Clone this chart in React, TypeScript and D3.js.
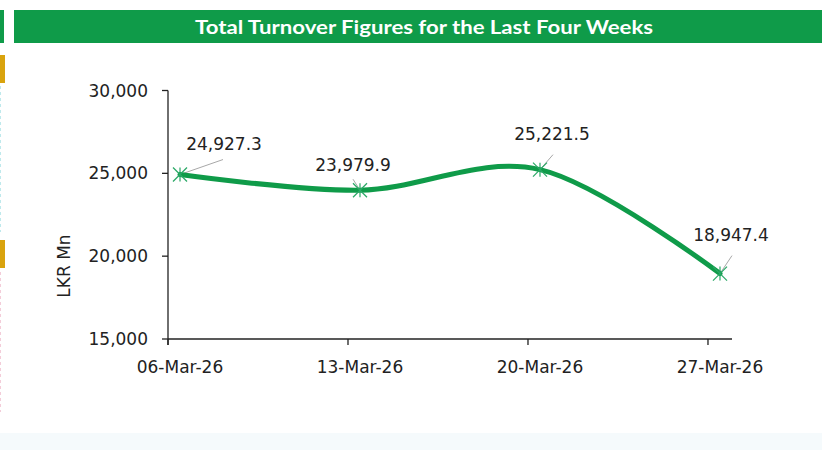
import React from "react";
import * as d3 from "d3";

const dates = ["06-Mar-26", "13-Mar-26", "20-Mar-26", "27-Mar-26"];
const dayOffsets = [0, 7, 14, 21];
const turnover = [24927.3, 23979.9, 25221.5, 18947.4];
const labelText = ["24,927.3", "23,979.9", "25,221.5", "18,947.4"];
const yTicks = [15000, 20000, 25000, 30000];
const title = "Total Turnover Figures for the Last Four Weeks";
const yTitle = "LKR Mn";

// label offsets (dx, dy in px) relative to each point
const labelOffsets: [number, number][] = [
  [44, -31],
  [-7, -25],
  [12, -36],
  [11, -39],
];
const leaderEnds: [number, number][] = [
  [43, -15],
  [-7, -11],
  [13, -15],
  [12, -18],
];

const W = 822;
const H = 450;
const GREEN = "#0f9b49";
const FONT = "'DejaVu Sans', Verdana, sans-serif";
const FS = 17;

export default function App() {
  const x = d3.scaleLinear().domain([-0.467, 21.467]).range([168, 732]);
  const y = d3.scaleLinear().domain([15000, 30000]).range([339, 90.5]);
  const tickShift = -0.467;

  const pts = turnover.map((v, i) => [x(dayOffsets[i]), y(v)] as [number, number]);
  const line = d3
    .line<[number, number]>()
    .x((d) => d[0])
    .y((d) => d[1])
    .curve(d3.curveCardinal.tension(0));

  const ms = 7;
  return (
    <svg
      width={W}
      height={H}
      style={{ position: "absolute", left: 0, top: 0, background: "#fff" }}
      fontFamily={FONT}
    >
      <rect x={0} y={0} width={W} height={H} fill="#fff" />
      {/* left decorations */}
      <rect x={0} y={10} width={4} height={33} fill={GREEN} />
      <rect x={0} y={55} width={5} height={28} fill="#d9a30e" />
      <rect x={0} y={240} width={5} height={28} fill="#d9a30e" />
      <line x1={0.5} x2={0.5} y1={86} y2={232} stroke="#bfe9ec" strokeDasharray="3 3" />
      <line x1={0.5} x2={0.5} y1={272} y2={412} stroke="#f3cdd9" strokeDasharray="3 3" />
      <rect x={0} y={433} width={W} height={17} fill="#f5fafc" />

      {/* title bar */}
      <rect x={14} y={10} width={W - 14} height={33} fill={GREEN} />
      <text
        x={424}
        y={34.3}
        textAnchor="middle"
        fill="#fff"
        fontFamily="Lato, sans-serif"
        fontWeight="bold"
        fontSize={18}
        textLength={458}
        lengthAdjust="spacingAndGlyphs"
      >
        {title}
      </text>

      {/* y axis */}
      <line x1={168} x2={168} y1={y(30000)} y2={y(15000) + 6} stroke="#222" strokeWidth={1.3} />
      {yTicks.map((t) => (
        <g key={t}>
          <line x1={162} x2={168} y1={y(t)} y2={y(t)} stroke="#222" strokeWidth={1.3} />
          <text x={148} y={y(t)} dy="0.36em" textAnchor="end" fontSize={FS} fill="#222">
            {d3.format(",")(t)}
          </text>
        </g>
      ))}
      <text
        transform={`translate(70,266) rotate(-90)`}
        textAnchor="middle"
        fontSize={FS}
        fill="#222"
      >
        {yTitle}
      </text>

      {/* x axis */}
      <line x1={168} x2={732} y1={y(15000)} y2={y(15000)} stroke="#222" strokeWidth={1.3} />
      {dayOffsets.map((d, i) => (
        <g key={i}>
          <line
            x1={x(d + tickShift)}
            x2={x(d + tickShift)}
            y1={y(15000)}
            y2={y(15000) + 6}
            stroke="#222"
            strokeWidth={1.3}
          />
          <text x={x(d)} y={372.5} textAnchor="middle" fontSize={FS} fill="#222">
            {dates[i]}
          </text>
        </g>
      ))}

      {/* leader lines */}
      {pts.map((p, i) => (
        <line
          key={"ll" + i}
          x1={p[0]}
          y1={p[1]}
          x2={p[0] + leaderEnds[i][0]}
          y2={p[1] + leaderEnds[i][1]}
          stroke="#a8a8a8"
          strokeWidth={1}
        />
      ))}

      {/* series line */}
      <path d={line(pts) || ""} fill="none" stroke={GREEN} strokeWidth={5} strokeLinecap="round" />

      {/* star markers */}
      {pts.map((p, i) => (
        <g key={"m" + i} stroke="#2aa866" strokeWidth={1.2}>
          <line x1={p[0] - ms} y1={p[1] - ms} x2={p[0] + ms} y2={p[1] + ms} />
          <line x1={p[0] - ms} y1={p[1] + ms} x2={p[0] + ms} y2={p[1] - ms} />
          <line x1={p[0]} y1={p[1] - ms} x2={p[0]} y2={p[1] + ms} />
        </g>
      ))}

      {/* data labels */}
      {pts.map((p, i) => (
        <text
          key={"t" + i}
          x={p[0] + labelOffsets[i][0]}
          y={p[1] + labelOffsets[i][1]}
          dy="0.36em"
          textAnchor="middle"
          fontSize={FS}
          fill="#222"
        >
          {labelText[i]}
        </text>
      ))}
    </svg>
  );
}
